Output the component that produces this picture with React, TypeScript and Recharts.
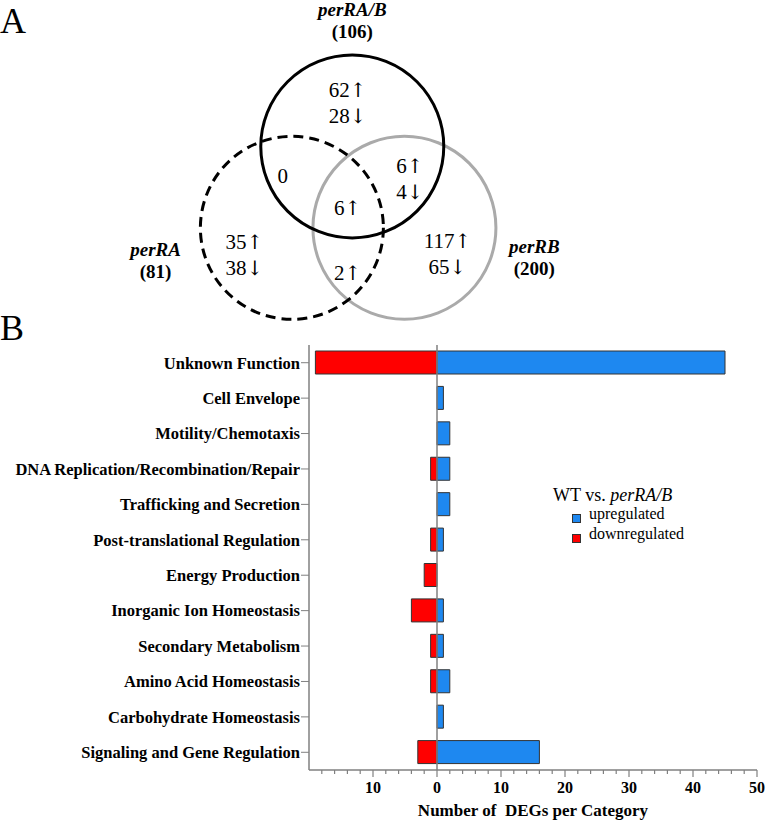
import React from "react";
import { ScatterChart, Scatter, XAxis, YAxis, BarChart, Bar, ReferenceLine, Legend } from "recharts";

const FONT = "'Liberation Serif', 'DejaVu Serif', 'Times New Roman', serif";
const ARROW_FONT = "'DejaVu Serif', serif";
const AXIS = "#808080";
const BLUE = "#1e88f0";
const RED = "#ff0000";

// ---- panel A data ----
const setNames = ["perRA/B", "perRA", "perRB"];
const setTotals = [106, 81, 200];

const regionNames = ["perRA/B only", "perRA/B & perRA", "all three", "perRA/B & perRB", "perRA only", "perRA & perRB", "perRB only"];
const regionUp = [62, 0, 6, 6, 35, 2, 117];
const regionDown = [28, 0, 0, 4, 38, 0, 65];

// ---- panel B data ----
const categories = [
  "Unknown Function",
  "Cell Envelope",
  "Motility/Chemotaxis",
  "DNA Replication/Recombination/Repair",
  "Trafficking and Secretion",
  "Post-translational Regulation",
  "Energy Production",
  "Inorganic Ion Homeostasis",
  "Secondary Metabolism",
  "Amino Acid Homeostasis",
  "Carbohydrate Homeostasis",
  "Signaling and Gene Regulation",
];
const upregulated = [45, 1, 2, 2, 2, 1, 0, 1, 1, 2, 1, 16];
const downregulated = [-19, 0, 0, -1, 0, -1, -2, -4, -1, -1, 0, -3];
const xTicks = [-20, -18, -16, -14, -12, -10, -8, -6, -4, -2, 0, 2, 4, 6, 8, 10, 12, 14, 16, 18, 20, 22, 24, 26, 28, 30, 32, 34, 36, 38, 40, 42, 44, 46, 48, 50];
const legendOrder = ["upregulated", "downregulated"];

// venn layout (1 unit = circle radius)
const U = 91.5;
const VW = 766;
const VH = 330;
const setCenters = [[3.85, 1.6], [3.19, 2.49], [4.42, 2.49]];
const setLabelPos = [[3.85, 0.3], [1.7, 2.92], [5.84, 2.88]];
const setStroke = [
  { stroke: "#000", dash: undefined },
  { stroke: "#000", dash: "10 6" },
  { stroke: "#aaaaaa", dash: undefined },
];
const regionPos = [[3.8, 1.2], [3.09, 2.0], [3.8, 2.35], [4.48, 2.03], [2.67, 2.86], [3.8, 3.06], [4.89, 2.85]];

const Count = ({ x, y, n, arrow }: { x: number; y: number; n: number; arrow?: string }) => (
  <text x={x} y={y} textAnchor="middle" fontSize={21} fontFamily={FONT} fill="#000">
    {n}
    {arrow && <tspan fontFamily={ARROW_FONT} fontSize={20}>{arrow}</tspan>}
  </text>
);

function Venn() {
  const circles = [2, 1, 0].map((i) => ({ name: setNames[i], x: setCenters[i][0], y: setCenters[i][1], idx: i }));
  const setLabels = setNames.map((name, i) => ({ name, total: setTotals[i], x: setLabelPos[i][0], y: setLabelPos[i][1] }));
  const regions = regionNames.map((name, i) => ({ name, up: regionUp[i], down: regionDown[i], x: regionPos[i][0], y: regionPos[i][1] }));

  return (
    <ScatterChart width={VW} height={VH} margin={{ top: 0, right: 0, bottom: 0, left: 0 }}>
      <XAxis type="number" dataKey="x" domain={[0, VW / U]} hide />
      <YAxis type="number" dataKey="y" domain={[0, VH / U]} reversed hide />
      <Scatter
        data={circles}
        isAnimationActive={false}
        shape={(p: any) => (
          <circle
            cx={p.cx}
            cy={p.cy}
            r={U}
            fill="none"
            stroke={setStroke[p.payload.idx].stroke}
            strokeWidth={3}
            strokeDasharray={setStroke[p.payload.idx].dash}
          />
        )}
      />
      <Scatter
        data={setLabels}
        isAnimationActive={false}
        shape={(p: any) => (
          <g fontFamily={FONT} fill="#000" fontSize={19} fontWeight="bold">
            <text x={p.cx} y={p.cy - 11} textAnchor="middle" fontStyle="italic">
              {p.payload.name}
            </text>
            <text x={p.cx} y={p.cy + 11} textAnchor="middle">
              ({p.payload.total})
            </text>
          </g>
        )}
      />
      <Scatter
        data={regions}
        isAnimationActive={false}
        shape={(p: any) => {
          const { up, down } = p.payload;
          if (!up && !down) return <Count x={p.cx} y={p.cy} n={0} />;
          if (!down) return <Count x={p.cx} y={p.cy} n={up} arrow="↑" />;
          return (
            <g>
              <Count x={p.cx} y={p.cy - 13} n={up} arrow="↑" />
              <Count x={p.cx} y={p.cy + 13} n={down} arrow="↓" />
            </g>
          );
        }}
      />
    </ScatterChart>
  );
}

const XTick = (p: any) => {
  const v = p.payload.value;
  if (v === -20) return null;
  const major = v % 10 === 0;
  return (
    <g>
      <line x1={p.x} x2={p.x} y1={p.y} y2={p.y + (major ? 7 : 4)} stroke={AXIS} strokeWidth={1.2} />
      {major && (
        <text x={p.x} y={p.y + 23} textAnchor="middle" fontFamily={FONT} fontSize={16} fontWeight="bold" fill="#000">
          {Math.abs(v)}
        </text>
      )}
    </g>
  );
};

const renderLegend = (props: any) => {
  const items = [...(props.payload || [])].sort((a: any, b: any) => legendOrder.indexOf(a.value) - legendOrder.indexOf(b.value));
  return (
    <div style={{ fontFamily: FONT, color: "#000" }}>
      <div style={{ fontSize: 18, lineHeight: "18px", whiteSpace: "nowrap" }}>
        WT vs. <i>perRA/B</i>
      </div>
      {items.map((e: any) => (
        <div key={e.value} style={{ marginLeft: 19, fontSize: 16, lineHeight: "20px", whiteSpace: "nowrap" }}>
          <span
            style={{
              display: "inline-block",
              width: 7,
              height: 7,
              background: e.color,
              border: "1px solid #333",
              marginRight: 8,
              verticalAlign: -4,
            }}
          />
          {e.value}
        </div>
      ))}
    </div>
  );
};

function DegBars() {
  const data = categories.map((name, i) => ({ name, up: upregulated[i], down: downregulated[i] }));
  return (
    <BarChart
      width={766}
      height={511}
      data={data}
      layout="vertical"
      stackOffset="sign"
      margin={{ top: 35, right: 9, bottom: 0, left: 0 }}
    >
      <XAxis
        type="number"
        domain={[-20, 50]}
        ticks={xTicks}
        interval={0}
        height={51}
        tickSize={0}
        tickMargin={0}
        tick={XTick}
        axisLine={{ stroke: AXIS, strokeWidth: 1.5 }}
        label={{
          content: (lp: any) => (
            <text
              x={lp.viewBox.x + lp.viewBox.width / 2}
              y={lp.viewBox.y + 46}
              textAnchor="middle"
              fontFamily={FONT}
              fontSize={17}
              fontWeight="bold"
              fill="#000"
              style={{ whiteSpace: "pre" }}
            >
              {"Number of  DEGs per Category"}
            </text>
          ),
        }}
      />
      <YAxis
        type="category"
        dataKey="name"
        width={309}
        interval={0}
        tickSize={8}
        tickMargin={1}
        tick={{ fontFamily: FONT, fontSize: 16.5, fontWeight: "bold", fill: "#000" }}
        tickLine={{ stroke: AXIS }}
        axisLine={{ stroke: AXIS, strokeWidth: 1.5 }}
      />
      <Legend
        content={renderLegend}
        layout="horizontal"
        verticalAlign="middle"
        align="center"
        wrapperStyle={{ left: 553, top: 176, width: "auto" }}
      />
      <Bar dataKey="up" name="upregulated" stackId="s" fill={BLUE} stroke="#333" strokeWidth={1} barSize={23} isAnimationActive={false} />
      <Bar dataKey="down" name="downregulated" stackId="s" fill={RED} stroke="#333" strokeWidth={1} barSize={23} isAnimationActive={false} />
      <ReferenceLine x={0} stroke={AXIS} strokeWidth={1.5} />
    </BarChart>
  );
}

export default function App() {
  const letter = { position: "absolute" as const, left: 0, fontFamily: FONT, fontSize: 36, lineHeight: "36px", color: "#000" };
  return (
    <div style={{ position: "relative", width: 766, height: 821, background: "#fff" }}>
      <style>{`body{margin:0}`}</style>
      <div style={{ position: "absolute", left: 0, top: 0 }}>
        <Venn />
      </div>
      <div style={{ position: "absolute", left: 0, top: 310 }}>
        <DegBars />
      </div>
      <div style={{ ...letter, top: 3 }}>A</div>
      <div style={{ ...letter, top: 310 }}>B</div>
    </div>
  );
}
